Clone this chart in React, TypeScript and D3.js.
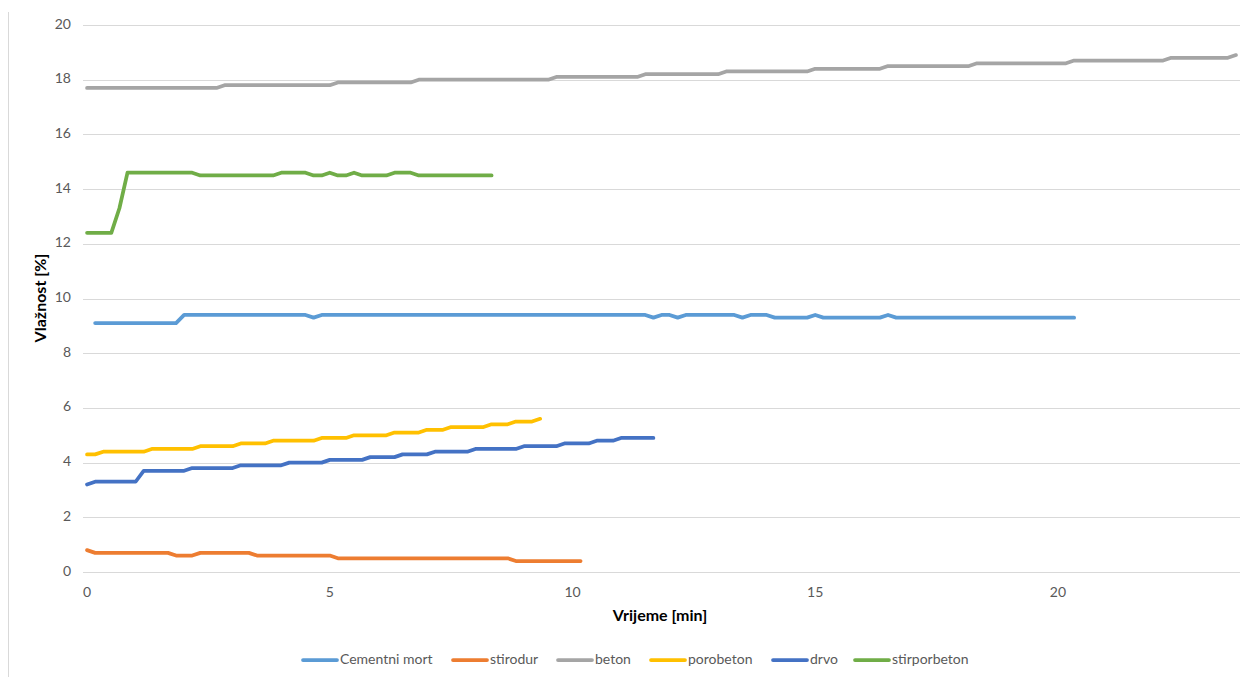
import * as d3 from "d3";

// time in seconds (one reading every 10 s), humidity in %
const seriesNames = ["Cementni mort", "stirodur", "beton", "porobeton", "drvo", "stirporbeton"];
const seriesColors = ["#5B9BD5", "#ED7D31", "#A5A5A5", "#FFC000", "#4472C4", "#70AD47"];

const cementniMortT = [10, 110, 120, 270, 280, 290, 690, 700, 710, 720, 730, 740, 800, 810, 820, 840, 850, 890, 900, 910, 980, 990, 1000, 1220];
const cementniMortV = [9.1, 9.1, 9.4, 9.4, 9.3, 9.4, 9.4, 9.3, 9.4, 9.4, 9.3, 9.4, 9.4, 9.3, 9.4, 9.4, 9.3, 9.3, 9.4, 9.3, 9.3, 9.4, 9.3, 9.3];

const stirodurT = [0, 10, 100, 110, 130, 140, 200, 210, 300, 310, 520, 530, 610];
const stirodurV = [0.8, 0.7, 0.7, 0.6, 0.6, 0.7, 0.7, 0.6, 0.6, 0.5, 0.5, 0.4, 0.4];

const betonT = [0, 160, 170, 300, 310, 400, 410, 570, 580, 680, 690, 780, 790, 890, 900, 980, 990, 1090, 1100, 1210, 1220, 1330, 1340, 1410, 1420];
const betonV = [17.7, 17.7, 17.8, 17.8, 17.9, 17.9, 18.0, 18.0, 18.1, 18.1, 18.2, 18.2, 18.3, 18.3, 18.4, 18.4, 18.5, 18.5, 18.6, 18.6, 18.7, 18.7, 18.8, 18.8, 18.9];

const porobetonT = [0, 10, 20, 70, 80, 130, 140, 180, 190, 220, 230, 280, 290, 320, 330, 370, 380, 410, 420, 440, 450, 490, 500, 520, 530, 550, 560];
const porobetonV = [4.3, 4.3, 4.4, 4.4, 4.5, 4.5, 4.6, 4.6, 4.7, 4.7, 4.8, 4.8, 4.9, 4.9, 5.0, 5.0, 5.1, 5.1, 5.2, 5.2, 5.3, 5.3, 5.4, 5.4, 5.5, 5.5, 5.6];

const drvoT = [0, 10, 60, 70, 120, 130, 180, 190, 240, 250, 290, 300, 340, 350, 380, 390, 420, 430, 470, 480, 530, 540, 580, 590, 620, 630, 650, 660, 700];
const drvoV = [3.2, 3.3, 3.3, 3.7, 3.7, 3.8, 3.8, 3.9, 3.9, 4.0, 4.0, 4.1, 4.1, 4.2, 4.2, 4.3, 4.3, 4.4, 4.4, 4.5, 4.5, 4.6, 4.6, 4.7, 4.7, 4.8, 4.8, 4.9, 4.9];

const stirporbetonT = [0, 30, 40, 50, 130, 140, 230, 240, 270, 280, 290, 300, 310, 320, 330, 340, 370, 380, 400, 410, 500];
const stirporbetonV = [12.4, 12.4, 13.3, 14.6, 14.6, 14.5, 14.5, 14.6, 14.6, 14.5, 14.5, 14.6, 14.5, 14.5, 14.6, 14.5, 14.5, 14.6, 14.6, 14.5, 14.5];

const xTickMinutes = [0, 5, 10, 15, 20];
const yTickValues = [0, 2, 4, 6, 8, 10, 12, 14, 16, 18, 20];

const seriesTimes = [cementniMortT, stirodurT, betonT, porobetonT, drvoT, stirporbetonT];
const seriesValues = [cementniMortV, stirodurV, betonV, porobetonV, drvoV, stirporbetonV];

export default function App() {
    const width = 1251;
    const height = 677;
    const font = "Lato, 'Open Sans', sans-serif";

    // category axis: 143 ten-second slots, points sit in the middle of each slot
    const xScale = d3.scaleLinear().domain([-5, 1425]).range([83, 1240]);
    const yScale = d3.scaleLinear().domain([0, 20]).range([572, 25]);

    const line = d3
        .line<[number, number]>()
        .x((d) => xScale(d[0]))
        .y((d) => yScale(d[1]));

    const legendX = [303, 453, 558, 651, 773, 855];

    return (
        <svg
            width={width}
            height={height}
            style={{ position: "absolute", left: 0, top: 0, background: "#fff" }}
            fontFamily={font}
        >
            <rect x={0} y={0} width={width} height={height} fill="#fff" />
            <line x1={8.5} x2={8.5} y1={12} y2={height} stroke="#d9d9d9" strokeWidth={1} />

            {yTickValues.map((tick) => (
                <g key={tick}>
                    <line
                        x1={83}
                        x2={1240}
                        y1={Math.round(yScale(tick)) + 0.5}
                        y2={Math.round(yScale(tick)) + 0.5}
                        stroke="#d9d9d9"
                        strokeWidth={1}
                    />
                    <text
                        x={71}
                        y={yScale(tick)}
                        textAnchor="end"
                        dominantBaseline="middle"
                        fontSize="14"
                        fill="#595959"
                    >
                        {tick}
                    </text>
                </g>
            ))}

            {xTickMinutes.map((m) => (
                <text
                    key={m}
                    x={xScale(m * 60)}
                    y={597}
                    textAnchor="middle"
                    fontSize="14"
                    fill="#595959"
                >
                    {m}
                </text>
            ))}

            {seriesNames.map((name, i) => {
                const pts = seriesTimes[i].map((t, j) => [t, seriesValues[i][j]] as [number, number]);
                return (
                    <path
                        key={name}
                        d={line(pts) ?? ""}
                        fill="none"
                        stroke={seriesColors[i]}
                        strokeWidth={3.75}
                        strokeLinejoin="round"
                        strokeLinecap="round"
                    />
                );
            })}

            <text x={660} y={621} textAnchor="middle" fontSize="16" fontWeight="bold" fill="#000">
                Vrijeme [min]
            </text>
            <text
                transform="translate(46, 298) rotate(-90)"
                textAnchor="middle"
                fontSize="16"
                fontWeight="bold"
                fill="#000"
            >
                Vlažnost [%]
            </text>

            {seriesNames.map((name, i) => (
                <g key={name} transform={`translate(${legendX[i]}, 660)`}>
                    <line x1={0} x2={34} y1={0} y2={0} stroke={seriesColors[i]} strokeWidth={3.75} strokeLinecap="round" />
                    <text x={37} y={0} dominantBaseline="middle" fontSize="14" fill="#595959">
                        {name}
                    </text>
                </g>
            ))}
        </svg>
    );
}
